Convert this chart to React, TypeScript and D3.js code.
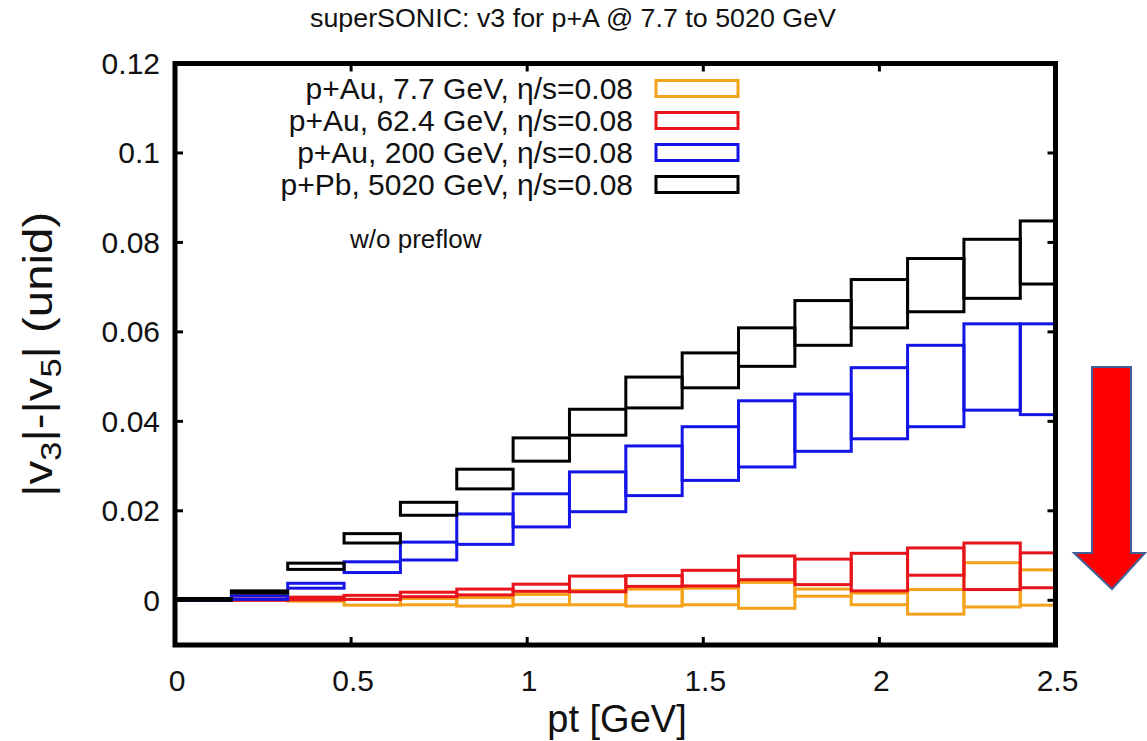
import React from "react";
import * as d3 from "d3";

const ptEdges = [0, 0.16, 0.32, 0.48, 0.64, 0.8, 0.96, 1.12, 1.28, 1.44, 1.6, 1.76, 1.92, 2.08, 2.24, 2.4, 2.56];

const seriesNames = [
  "p+Au, 7.7 GeV, η/s=0.08",
  "p+Au, 62.4 GeV, η/s=0.08",
  "p+Au, 200 GeV, η/s=0.08",
  "p+Pb, 5020 GeV, η/s=0.08",
];
const seriesColors = ["#f5a21b", "#e8141b", "#1414e6", "#000000"];

// [low, high] of each box per pt bin
const au77Lo = [0, 0, -0.0002, -0.0011, -0.001, -0.0013, -0.001, -0.001, -0.0013, -0.001, -0.0018, 0.0009, -0.001, -0.0031, -0.0015, -0.0011];
const au77Hi = [0.0001, 0.0002, 0.0004, 0.0002, 0.0004, 0.0006, 0.0013, 0.0022, 0.0025, 0.0027, 0.004, 0.0025, 0.0016, 0.0024, 0.0084, 0.0068];
const au624Lo = [0, 0, 0.0001, 0.0002, 0.0008, 0.0012, 0.002, 0.0019, 0.0031, 0.0032, 0.0046, 0.0035, 0.0021, 0.0056, 0.0024, 0.0028];
const au624Hi = [0.0002, 0.0003, 0.0007, 0.0011, 0.0018, 0.0025, 0.0036, 0.0054, 0.0055, 0.0067, 0.0099, 0.0092, 0.0105, 0.0117, 0.0128, 0.0106];
const au200Lo = [0, 0.0002, 0.0027, 0.0062, 0.009, 0.0125, 0.0164, 0.0198, 0.0234, 0.0268, 0.0298, 0.0333, 0.0361, 0.0388, 0.0425, 0.0415];
const au200Hi = [0.0003, 0.001, 0.0038, 0.0086, 0.013, 0.0193, 0.0238, 0.0287, 0.0345, 0.0388, 0.0446, 0.0461, 0.052, 0.057, 0.0618, 0.0618];
const pb5020Lo = [0, 0.0016, 0.0069, 0.0128, 0.019, 0.0249, 0.0311, 0.0369, 0.043, 0.0475, 0.0523, 0.057, 0.0609, 0.0645, 0.0675, 0.0707];
const pb5020Hi = [0.0004, 0.0021, 0.0083, 0.0149, 0.0219, 0.0293, 0.0363, 0.0427, 0.0499, 0.0553, 0.0609, 0.067, 0.0717, 0.0764, 0.0807, 0.0848];

const xTicks = [0, 0.5, 1, 1.5, 2, 2.5];
const yTicks = [0, 0.02, 0.04, 0.06, 0.08, 0.1, 0.12];

const FONT = "'Liberation Sans', Arial, Helvetica, sans-serif";

export default function App() {
  const W = 1147, H = 741;
  const L = 175, R = 1055.5, T = 63.5, B = 645;
  const x = d3.scaleLinear().domain([0, 2.5]).range([L, R]);
  const y = d3.scaleLinear().domain([-0.01, 0.12]).range([B, T]);

  const los = [au77Lo, au624Lo, au200Lo, pb5020Lo];
  const his = [au77Hi, au624Hi, au200Hi, pb5020Hi];

  const fmtY = (v: number) => (v === 0 ? "0" : String(+v.toFixed(2)));
  const legendRows = [88.5, 120.5, 152.5, 184.5];
  const tick = 8;

  return (
    <svg width={W} height={H} style={{ position: "absolute", left: 0, top: 0, background: "#fff" }} fontFamily={FONT}>
      <defs>
        <clipPath id="plotclip">
          <rect x={L} y={T} width={R - L} height={B - T} />
        </clipPath>
      </defs>
      <rect x={0} y={0} width={W} height={H} fill="#fff" />
      {/* title */}
      <text x={573} y={27} textAnchor="middle" fontSize={26} fill="#111" textLength={526} lengthAdjust="spacingAndGlyphs">
        superSONIC: v3 for p+A @ 7.7 to 5020 GeV
      </text>

      {/* data boxes */}
      <g clipPath="url(#plotclip)">
        {los.map((lo, s) => (
          <g key={s} stroke={seriesColors[s]} strokeWidth={3} fill="none">
            {lo.map((l, i) => {
              const h = his[s][i];
              const x0 = x(ptEdges[i]);
              const x1 = x(ptEdges[i + 1]);
              return <rect key={i} x={x0} y={y(h)} width={x1 - x0} height={Math.max(0.01, y(l) - y(h))} />;
            })}
          </g>
        ))}
      </g>

      {/* ticks */}
      <g stroke="#000" strokeWidth={3}>
        {yTicks.map((v) => (
          <g key={"yt" + v}>
            <line x1={L} x2={L + tick} y1={y(v)} y2={y(v)} />
            <line x1={R} x2={R - tick} y1={y(v)} y2={y(v)} />
          </g>
        ))}
        {xTicks.map((v) => (
          <g key={"xt" + v}>
            <line x1={x(v)} x2={x(v)} y1={B} y2={B - tick} />
            <line x1={x(v)} x2={x(v)} y1={T} y2={T + tick} />
          </g>
        ))}
      </g>
      {/* frame */}
      <rect x={L} y={T} width={R - L} height={B - T} fill="none" stroke="#000" strokeWidth={5} />

      {/* tick labels */}
      {yTicks.map((v) => (
        <text key={"yl" + v} x={160} y={y(v) + 10.5} textAnchor="end" fontSize={30} fill="#111">
          {fmtY(v)}
        </text>
      ))}
      {xTicks.map((v) => (
        <text key={"xl" + v} x={x(v) + 2} y={691} textAnchor="middle" fontSize={30} fill="#111">
          {String(v)}
        </text>
      ))}

      {/* axis titles */}
      <text x={617} y={732} textAnchor="middle" fontSize={38} fill="#111">
        pt [GeV]
      </text>
      <text
        transform={`translate(52,${(T + B) / 2}) rotate(-90)`}
        textAnchor="middle"
        fontSize={40}
        fill="#111"
        textLength={285}
        lengthAdjust="spacingAndGlyphs"
      >
        |v<tspan fontSize={29} dy={9}>3</tspan>
        <tspan dy={-9}>|-|v</tspan>
        <tspan fontSize={29} dy={9}>5</tspan>
        <tspan dy={-9}>| (unid)</tspan>
      </text>

      {/* legend */}
      {seriesNames.map((n, i) => (
        <g key={"lg" + i}>
          <text x={633} y={legendRows[i] + 10.5} textAnchor="end" fontSize={30} fill="#111">
            {n}
          </text>
          <rect x={656} y={legendRows[i] - 8} width={82} height={16} fill="none" stroke={seriesColors[i]} strokeWidth={3} />
        </g>
      ))}

      <text x={350} y={248} fontSize={26} fill="#111">
        w/o preflow
      </text>

      {/* red arrow */}
      <path
        d="M1092,367 L1131,367 L1131,553 L1145,553 L1112,589 L1074,553 L1092,553 Z"
        fill="#ff0000"
        stroke="#41609a"
        strokeWidth={2}
        strokeLinejoin="miter"
      />
    </svg>
  );
}
